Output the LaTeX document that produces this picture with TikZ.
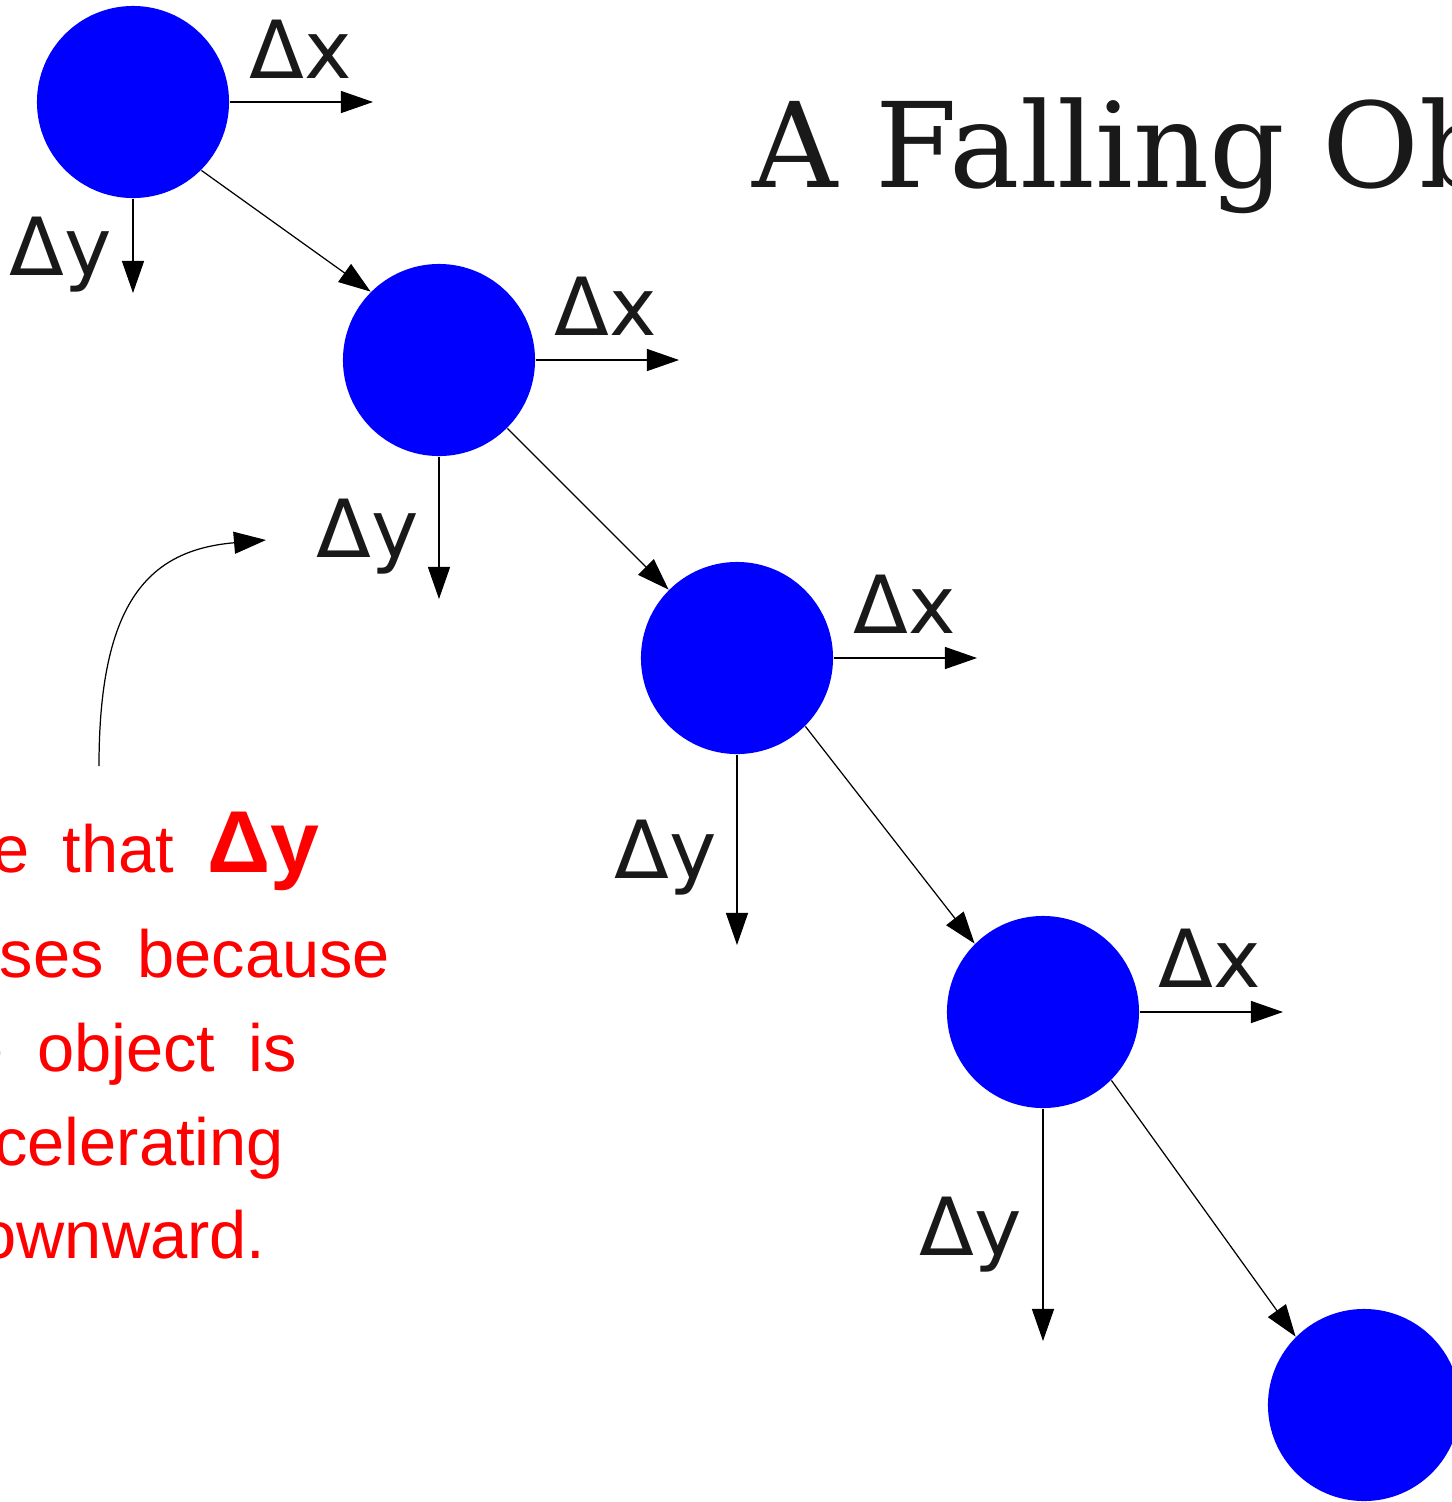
\documentclass[tikz,border=0pt]{standalone}
\usepackage{fontspec}
\setmainfont{DejaVu Sans}
\newfontfamily\titlefont{DejaVu Serif}
\newfontfamily\notefont{Liberation Sans}
\newcommand\widespaces{\spaceskip=0.5em\relax}
\usetikzlibrary{arrows.meta}

\begin{document}
\begin{tikzpicture}[x=0.01cm,y=-0.01cm,
  ball/.style={circle,fill=blue,minimum size=1.92cm,inner sep=0pt},
  lab/.style={anchor=base,text=black!90,font=\fontsize{22.8}{24}\selectfont,inner sep=0pt},
  arr/.style={-{Triangle[length=0.32cm,width=0.22cm]},line width=0.35pt}]
  \useasboundingbox (0,0) rectangle (1452,1502);
  \clip (0,0) rectangle (1452,1502);
  % falling object
  \node[ball] (b1) at (133,102) {};
  \node[ball] (b2) at (439,360) {};
  \node[ball] (b3) at (737,658) {};
  \node[ball] (b4) at (1043,1012) {};
  \node[ball] (b5) at (1364,1405) {};
  \draw[arr] (b1.south east) -- (b2.north west);
  \draw[arr] (b2.south east) -- (b3.north west);
  \draw[arr] (b3.south east) -- (b4.north west);
  \draw[arr] (b4.south east) -- (b5.north west);
  % horizontal steps
  \coordinate (x1) at (373,102);
  \coordinate (x2) at (679,360);
  \coordinate (x3) at (977,658);
  \coordinate (x4) at (1283,1012);
  \draw[arr] (b1.east) -- (x1);
  \draw[arr] (b2.east) -- (x2);
  \draw[arr] (b3.east) -- (x3);
  \draw[arr] (b4.east) -- (x4);
  \node[lab] (dx1) at (301,78) {Δx};
  \node[lab] (dx2) at (606,335) {Δx};
  \node[lab] (dx3) at (905,633) {Δx};
  \node[lab] (dx4) at (1210,987) {Δx};
  % vertical steps
  \coordinate (y1) at (133,293);
  \coordinate (y2) at (439,599);
  \coordinate (y3) at (737,945);
  \coordinate (y4) at (1043,1341);
  \draw[arr] (b1.south) -- (y1);
  \draw[arr] (b2.south) -- (y2);
  \draw[arr] (b3.south) -- (y3);
  \draw[arr] (b4.south) -- (y4);
  \node[lab] (dy1) at (61,275) {Δy};
  \node[lab] (dy2) at (368,557) {Δy};
  \node[lab] (dy3) at (666,878) {Δy};
  \node[lab] (dy4) at (971,1255) {Δy};
  % title and note
  \node[anchor=base west,inner sep=0pt,text=black!90,font=\titlefont\fontsize{33.6}{36}\selectfont] (title) at (752,187) {A Falling Object};
  \node[align=center,text=red,inner sep=0pt,font=\notefont\fontsize{19}{26.7}\selectfont\widespaces] (note) at (104,1036)
    {Note that {\bfseries\fontsize{25}{26}\selectfont Δy}\\[3pt] increases because\\ the object is\\ accelerating\\ downward.};
  \coordinate (from) at (99,766);
  \coordinate (to) at (266,540);
  \draw[arr] (from) .. controls (99,600) and (150,550) .. (to);
\end{tikzpicture}
\end{document}
